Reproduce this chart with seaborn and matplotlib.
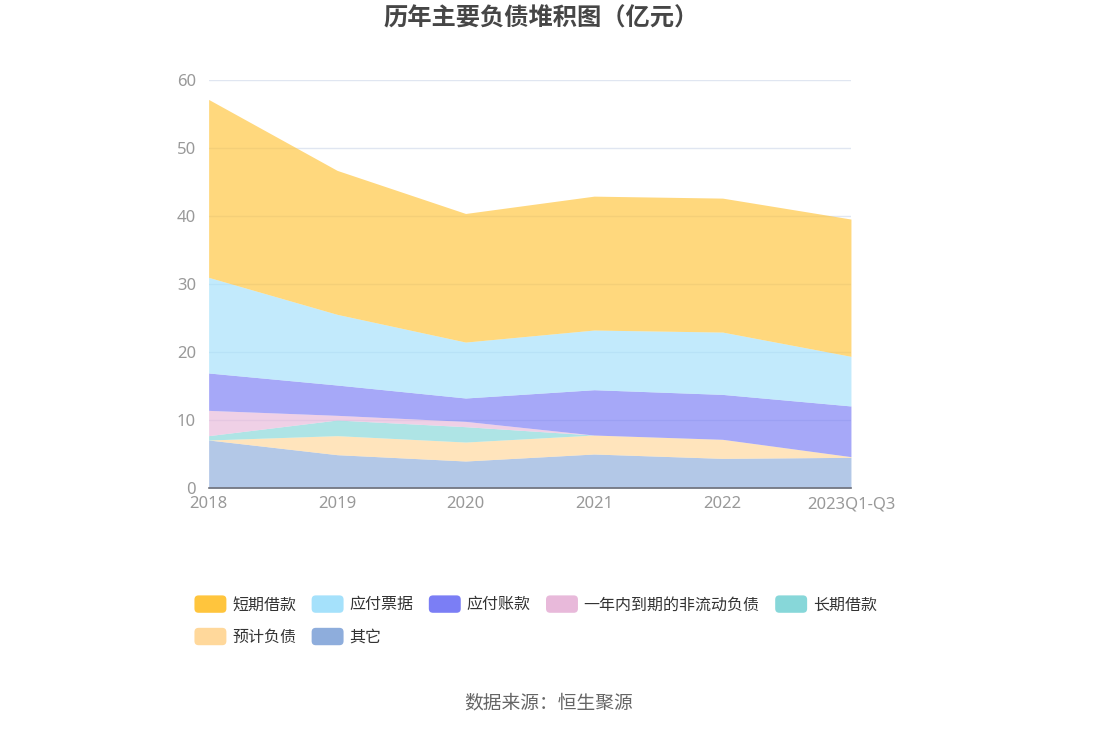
import numpy as np
import matplotlib
matplotlib.use("Agg")
import matplotlib.pyplot as plt
from matplotlib.patches import FancyBboxPatch, Patch
from matplotlib.legend_handler import HandlerPatch
import seaborn as sns

# data (亿元)
years = ["2018", "2019", "2020", "2021", "2022", "2023Q1-Q3"]
qita = [7.06, 4.90, 3.97, 5.00, 4.36, 4.51]          # 其它
yuji = [0.00, 2.80, 2.79, 2.79, 2.80, 0.10]          # 预计负债
changqi = [0.64, 2.30, 2.26, 0.00, 0.00, 0.00]       # 长期借款
yinian = [3.72, 0.69, 0.78, 0.00, 0.00, 0.00]        # 一年内到期的非流动负债
yingfu_zk = [5.50, 4.46, 3.44, 6.67, 6.61, 7.46]     # 应付账款
yingfu_pj = [14.07, 10.40, 8.23, 8.78, 9.17, 7.30]   # 应付票据
duanqi = [26.18, 21.18, 18.92, 19.70, 19.71, 20.20]  # 短期借款

names = ["其它", "预计负债", "长期借款", "一年内到期的非流动负债", "应付账款", "应付票据", "短期借款"]
colors = ["#8eaddc", "#ffd89b", "#87d7d9", "#e8b9da", "#7b7ef5", "#a5e1fb", "#ffc53d"]

sns.set_theme(style="white")
plt.rcParams['font.family'] = ['Noto Sans CJK SC', 'DejaVu Sans']

fig = plt.figure(figsize=(10.98, 7.29), dpi=100)
ax = fig.add_axes([0.190, 0.3306, 0.585, 0.5594])

x = np.arange(len(years))
series = [qita, yuji, changqi, yinian, yingfu_zk, yingfu_pj, duanqi]
ax.stackplot(x, *series, colors=colors, alpha=0.67, linewidth=0, labels=names)

ax.set_xlim(0, len(years) - 1)
ax.set_ylim(0, 60)
ax.set_yticks(range(0, 61, 10))
ax.set_xticks(x)
ax.set_xticklabels(years)
ax.yaxis.grid(True, color="#e0e6f1", linewidth=1)
ax.set_axisbelow(True)
for s in ["left", "right", "top"]:
    ax.spines[s].set_visible(False)
ax.spines["bottom"].set_color("#6e7079")
ax.spines["bottom"].set_linewidth(1.2)
ax.tick_params(axis="x", colors="#6e7079", length=5, width=1.2, direction="out",
               labelsize=12, labelcolor="#999999", pad=1)
ax.tick_params(axis="y", length=0, labelsize=12, labelcolor="#999999", pad=9)
for lab in ax.get_xticklabels() + ax.get_yticklabels():
    lab.set_family(["Noto Sans", "DejaVu Sans"])

fig.text(0.4925, 0.975, "历年主要负债堆积图（亿元）", ha="center", va="center",
         fontsize=17.5, fontweight="bold", color="#464646")


# rounded legend keys
class RoundHandler(HandlerPatch):
    def create_artists(self, legend, orig_handle, xdescent, ydescent, width, height, fontsize, trans):
        p = FancyBboxPatch((-xdescent, -ydescent), width, height,
                           boxstyle="round,pad=0,rounding_size=3",
                           facecolor=orig_handle.get_facecolor(), edgecolor="none",
                           transform=trans)
        return [p]


leg_names = ["短期借款", "预计负债", "应付票据", "其它", "应付账款", "一年内到期的非流动负债", "长期借款"]
leg_colors = dict(zip(names, colors))
handles = [Patch(facecolor=leg_colors[n], edgecolor="none") for n in leg_names]
fig.legend(handles, leg_names, ncol=5, loc="upper left", bbox_to_anchor=(0.164, 0.203),
           frameon=False, fontsize=11.5, handlelength=2.0, handleheight=1.3,
           handletextpad=0.35, columnspacing=0.98, labelspacing=0.9,
           labelcolor="#333333", handler_map={Patch: RoundHandler()})

fig.text(0.5, 0.036, "数据来源：恒生聚源", ha="center", va="center", fontsize=13.5, color="#666666")

fig.savefig("out.png", dpi=100)
